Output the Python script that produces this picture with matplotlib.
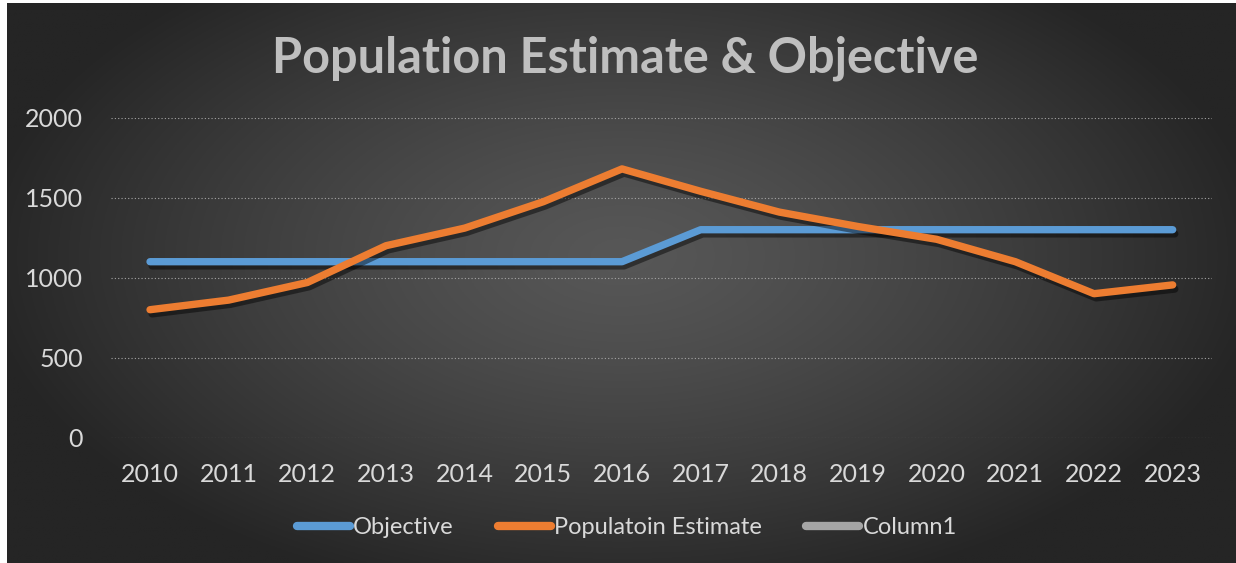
import numpy as np
import matplotlib
matplotlib.use("Agg")
import matplotlib.pyplot as plt
import matplotlib.patheffects as pe

# данные графика
years = ["2010", "2011", "2012", "2013", "2014", "2015", "2016",
         "2017", "2018", "2019", "2020", "2021", "2022", "2023"]
objective = [1100, 1100, 1100, 1100, 1100, 1100, 1100,
             1300, 1300, 1300, 1300, 1300, 1300, 1300]
population = [800, 860, 970, 1200, 1310, 1475, 1680,
              1540, 1410, 1320, 1240, 1100, 900, 955]
column1 = []
yticks = [0, 500, 1000, 1500, 2000]

plt.rcParams['font.family'] = ['Lato', 'DejaVu Sans']

fig = plt.figure(figsize=(12.36, 5.63), dpi=100)
fig.patch.set_facecolor("white")

# фон с радиальным градиентом
bg = fig.add_axes([7 / 1236, 0, 1 - 7 / 1236, 1 - 3 / 563])
bg.set_axis_off()
h, w = 300, 600
yy, xx = np.mgrid[0:h, 0:w]
r = np.sqrt(((xx - w * 0.5) / (w * 0.5)) ** 2 + ((yy - h * 0.45) / (h * 0.6)) ** 2)
val = 0x57 - (0x57 - 0x25) * np.clip(r / 1.05, 0, 1) ** 1.3
img = np.dstack([val, val, val]) / 255.0
bg.imshow(img, aspect="auto", extent=[0, 1, 0, 1])
bg.set_xlim(0, 1)
bg.set_ylim(0, 1)

ax = fig.add_axes([110.7 / 1236, 1 - 437.7 / 563, (1212 - 110.7) / 1236, (437.7 - 117.7) / 563])
ax.set_facecolor("none")

x = np.arange(len(years))
shadow = [pe.SimpleLineShadow(offset=(1.5, -3), shadow_color="black", alpha=0.45), pe.Normal()]
ax.plot(x, objective, color="#5B9BD5", lw=5.3, solid_capstyle="round", solid_joinstyle="round",
        label="Objective", path_effects=shadow, zorder=3)
ax.plot(x, population, color="#ED7D31", lw=5.3, solid_capstyle="round", solid_joinstyle="round",
        label="Populatoin Estimate", path_effects=shadow, zorder=4)
ax.plot(x[:len(column1)], column1, color="#A5A5A5", lw=5.3, solid_capstyle="round",
        label="Column1")

ax.set_xlim(-0.5, len(years) - 0.5)
ax.set_ylim(0, 2000)
ax.set_xticks(x)
ax.set_xticklabels(years)
ax.set_yticks(yticks)
ax.tick_params(length=0, colors="#d9d9d9", labelsize=18)
ax.tick_params(axis="y", pad=20)
ax.tick_params(axis="x", pad=18)
for s in ax.spines.values():
    s.set_visible(False)
ax.grid(axis="y", color="#a6a6a6", lw=0.8, linestyle=(0, (1, 2)))
ax.set_axisbelow(True)

fig.text(0.506, 1 - 58 / 563, "Population Estimate & Objective", ha="center", va="center",
         fontsize=35, fontweight="bold", color="#bfbfbf")

leg = fig.legend(loc="center", bbox_to_anchor=(0.507, 1 - 528 / 563), ncol=3, frameon=False,
                 fontsize=17, handlelength=2.25, handletextpad=0.15, columnspacing=1.85,
                 labelcolor="#d9d9d9")
for line in leg.get_lines():
    line.set_linewidth(6)
    line.set_solid_capstyle("round")
    line.set_path_effects([])

plt.savefig("out.png", dpi=100)
